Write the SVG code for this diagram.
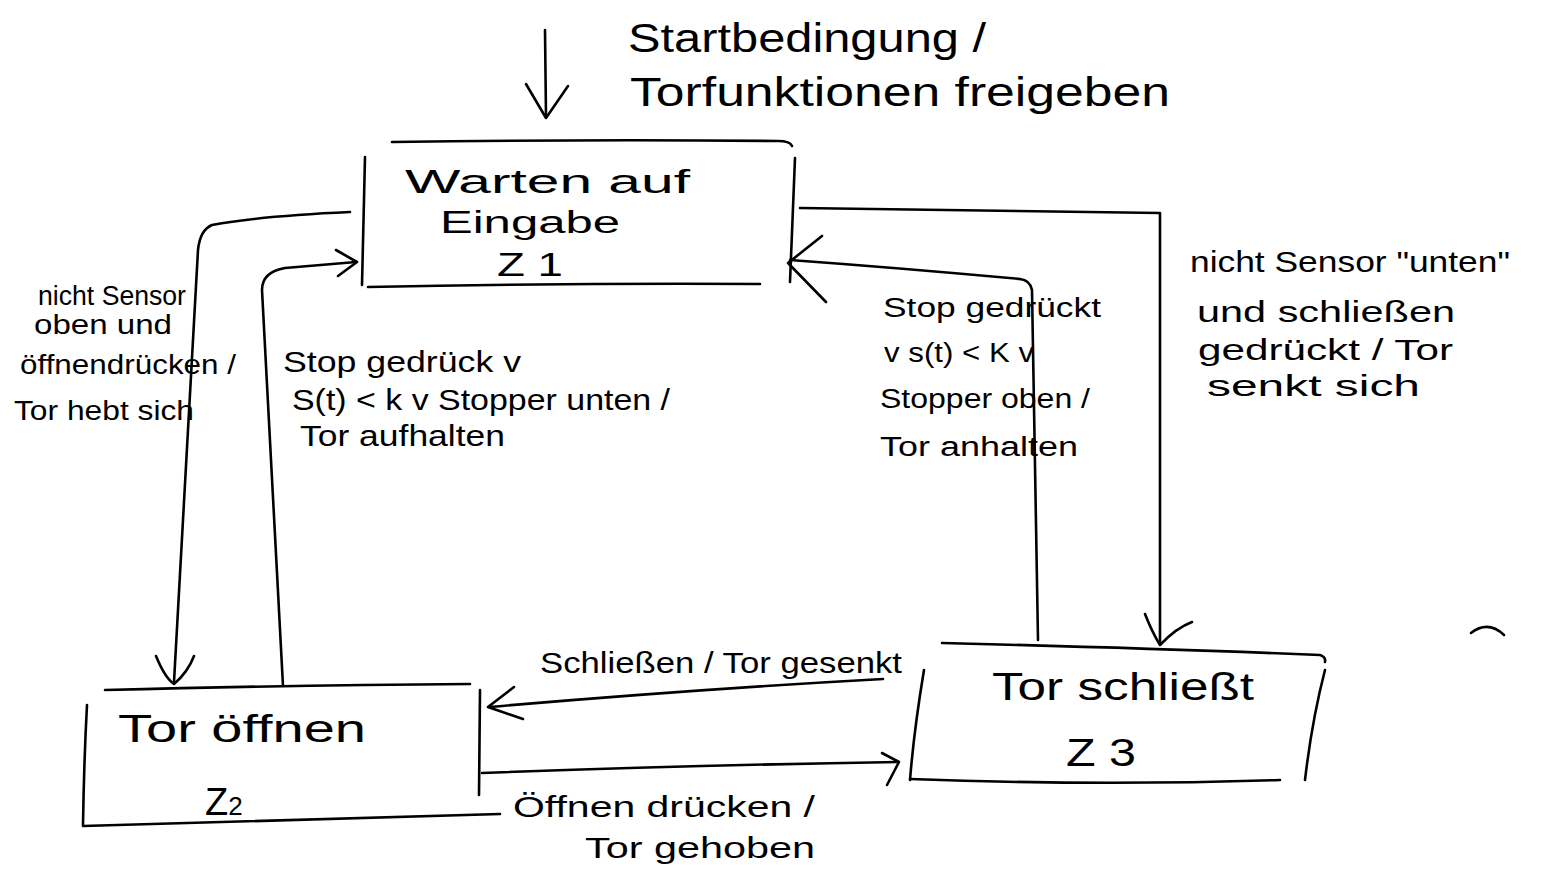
<svg xmlns="http://www.w3.org/2000/svg" width="1546" height="891" viewBox="0 0 1546 891">
<style>
.ln{fill:none;stroke:#000;stroke-width:2.6;stroke-linecap:round;stroke-linejoin:round}
.t{font-family:"Liberation Sans",Arial,sans-serif;fill:#000}
.big{font-size:38px}
.mid{font-size:30px}
.sm{font-size:27px}
</style>
<rect width="1546" height="891" fill="#fff"/>

<g id="z1">
<path class="ln" d="M392 142 Q600 139 778 141 Q790 141 792 146"/>
<path class="ln" d="M365 157 L362 285"/>
<path class="ln" d="M368 287 Q560 283 760 284"/>
<path class="ln" d="M795 158 L790 282"/>
<text class="t" font-size="34" x="405" y="193" textLength="285" lengthAdjust="spacingAndGlyphs">Warten auf</text>
<text class="t" font-size="31" x="440" y="233" textLength="180" lengthAdjust="spacingAndGlyphs">Eingabe</text>
<text class="t" font-size="34" x="497" y="276" textLength="66" lengthAdjust="spacingAndGlyphs">Z 1</text>
</g>

<g id="z2">
<path class="ln" d="M105 690 Q300 685 470 684"/>
<path class="ln" d="M87 705 Q84 760 83 825"/>
<path class="ln" d="M83 826 Q300 820 500 814"/>
<path class="ln" d="M480 690 L479 795"/>
<text class="t big" x="118" y="742" textLength="248" lengthAdjust="spacingAndGlyphs">Tor öffnen</text>
<text class="t big" x="205" y="815">Z<tspan font-size="26">2</tspan></text>
</g>

<g id="z3">
<path class="ln" d="M942 643 Q1150 648 1320 655 Q1326 657 1325 662"/>
<path class="ln" d="M924 670 Q914 730 910 780"/>
<path class="ln" d="M910 779 Q1100 786 1280 780"/>
<path class="ln" d="M1325 670 Q1312 720 1305 780"/>
<text class="t big" x="992" y="700" textLength="262" lengthAdjust="spacingAndGlyphs">Tor schließt</text>
<text class="t big" x="1066" y="766" textLength="70" lengthAdjust="spacingAndGlyphs">Z 3</text>
</g>

<g id="connectors">
<!-- initial -->
<path class="ln" d="M545 30 L546 117"/>
<path class="ln" d="M526 84 L546 118 L568 86"/>
<text class="t" font-size="40" x="628" y="52" textLength="358" lengthAdjust="spacingAndGlyphs">Startbedingung /</text>
<text class="t" font-size="40" x="630" y="106" textLength="540" lengthAdjust="spacingAndGlyphs">Torfunktionen freigeben</text>

<!-- Z1 -> Z2 -->
<path class="ln" d="M350 212 Q260 216 212 225 Q200 230 198 250 L174 682"/>
<path class="ln" d="M156 656 Q165 678 174 684 Q188 672 194 656"/>
<g class="t sm">
<text x="38" y="305" textLength="148" lengthAdjust="spacingAndGlyphs">nicht Sensor</text>
<text x="34" y="334" textLength="138" lengthAdjust="spacingAndGlyphs">oben und</text>
<text x="20" y="374" textLength="216" lengthAdjust="spacingAndGlyphs">öffnendrücken /</text>
<text x="14" y="420" textLength="180" lengthAdjust="spacingAndGlyphs">Tor hebt sich</text>
</g>

<!-- Z2 -> Z1 -->
<path class="ln" d="M283 686 L262 290 Q262 272 285 268 L356 262"/>
<path class="ln" d="M336 250 L357 262 L338 276"/>
<g class="t mid">
<text x="283" y="372" textLength="238" lengthAdjust="spacingAndGlyphs">Stop gedrück v</text>
<text x="292" y="410" textLength="378" lengthAdjust="spacingAndGlyphs">S(t) &lt; k v Stopper unten /</text>
<text x="300" y="446" textLength="205" lengthAdjust="spacingAndGlyphs">Tor aufhalten</text>
</g>

<!-- Z1 -> Z3 -->
<path class="ln" d="M800 208 Q1000 210 1160 213 L1160 642"/>
<path class="ln" d="M1145 614 Q1152 632 1160 645 Q1176 628 1192 622"/>
<g class="t mid">
<text x="1190" y="272" textLength="320" lengthAdjust="spacingAndGlyphs">nicht Sensor "unten"</text>
<text x="1197" y="322" textLength="258" lengthAdjust="spacingAndGlyphs">und schließen</text>
<text x="1198" y="360" textLength="255" lengthAdjust="spacingAndGlyphs">gedrückt / Tor</text>
<text x="1207" y="396" textLength="213" lengthAdjust="spacingAndGlyphs">senkt sich</text>
</g>

<!-- Z3 -> Z1 -->
<path class="ln" d="M1038 640 L1032 290 Q1030 280 1020 279 Q900 268 790 260"/>
<path class="ln" d="M822 236 L788 263 L826 302"/>
<g class="t sm">
<text x="883" y="317" textLength="218" lengthAdjust="spacingAndGlyphs">Stop gedrückt</text>
<text x="884" y="362" textLength="150" lengthAdjust="spacingAndGlyphs">v s(t) &lt; K v</text>
<text x="880" y="408" textLength="210" lengthAdjust="spacingAndGlyphs">Stopper oben /</text>
<text x="880" y="456" textLength="198" lengthAdjust="spacingAndGlyphs">Tor anhalten</text>
</g>

<!-- Z3 -> Z2 -->
<path class="ln" d="M883 679 Q700 689 489 707"/>
<path class="ln" d="M514 687 L488 707 L523 719"/>
<text class="t mid" x="540" y="673" textLength="362" lengthAdjust="spacingAndGlyphs">Schließen / Tor gesenkt</text>

<!-- Z2 -> Z3 -->
<path class="ln" d="M482 773 Q700 765 898 762"/>
<path class="ln" d="M882 753 L899 762 L887 785"/>
<text class="t mid" x="513" y="817" textLength="302" lengthAdjust="spacingAndGlyphs">Öffnen drücken /</text>
<text class="t mid" x="585" y="858" textLength="230" lengthAdjust="spacingAndGlyphs">Tor gehoben</text>
</g>

<path class="ln" d="M1471 633 Q1488 620 1504 635" stroke-width="2"/>
</svg>
